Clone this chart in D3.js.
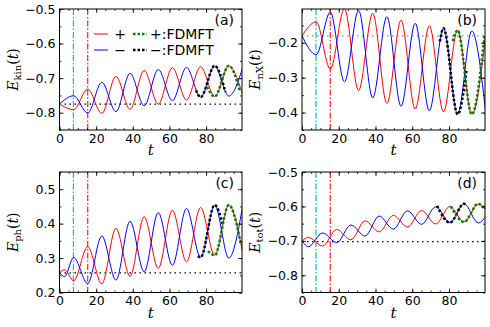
<!DOCTYPE html>
<html>
<head>
<meta charset="utf-8">
<script src="https://cdn.jsdelivr.net/npm/d3@7"></script>
<style>
body { margin: 0; background: #fff; }
text { font-family: "DejaVu Sans", sans-serif; fill: #000; }
</style>
</head>
<body>
<svg id="fig" width="490" height="327"></svg>
<script>
// ---- DATA (turning points of each curve) ----
const xTickVals = [0, 20, 40, 60, 80];
const markerT = [7.6, 15.4];            // cyan and red vertical lines
const refLevels = [-0.775, -0.18, 0.257, -0.702];

const kinTicks = [-0.8, -0.7, -0.6, -0.5];
const kinPlus = [[0,-0.775],[7.7,-0.791],[15.4,-0.732],[23.1,-0.802],[30.8,-0.695],[38.5,-0.790],[46.2,-0.678],[53.9,-0.775],[61.6,-0.670],[69.3,-0.763],[77,-0.667],[84.7,-0.753],[92.4,-0.665],[100.1,-0.750]];
const kinMinus = [[0,-0.775],[7.7,-0.751],[15.4,-0.801],[23.1,-0.712],[30.8,-0.797],[38.5,-0.686],[46.2,-0.780],[53.9,-0.675],[61.6,-0.765],[69.3,-0.669],[77,-0.755],[84.7,-0.665],[92.4,-0.752],[100.1,-0.668]];
const kinPlusFd = [[80.5,-0.725],[84.7,-0.753],[92.4,-0.664],[98.5,-0.738]];
const kinMinusFd = [[74.5,-0.735],[77,-0.755],[84.7,-0.664],[90.5,-0.740]];

const nxTicks = [-0.4, -0.3, -0.2];
const nxPlus = [[0,-0.18],[7.7,-0.140],[15.4,-0.275],[23.1,-0.102],[30.8,-0.337],[38.5,-0.115],[46.2,-0.374],[53.9,-0.135],[61.6,-0.390],[69.3,-0.151],[77,-0.398],[84.7,-0.163],[92.4,-0.405],[100.1,-0.170]];
const nxMinus = [[0,-0.18],[7.7,-0.234],[15.4,-0.112],[23.1,-0.312],[30.8,-0.107],[38.5,-0.358],[46.2,-0.125],[53.9,-0.382],[61.6,-0.144],[69.3,-0.395],[77,-0.158],[84.7,-0.405],[92.4,-0.166],[100.1,-0.405]];
const nxPlusFd = [[82,-0.195],[84.7,-0.164],[92.4,-0.405],[99.3,-0.180]];
const nxMinusFd = [[75,-0.196],[77,-0.158],[84.7,-0.405],[89.5,-0.280]];

const phTicks = [0.2, 0.3, 0.4, 0.5];
const phPlus = [[0,0.258],[2.8,0.266],[7.7,0.234],[15.4,0.333],[23.1,0.225],[30.8,0.386],[38.5,0.247],[46.2,0.420],[53.9,0.270],[61.6,0.439],[69.3,0.289],[77,0.447],[84.7,0.308],[92.4,0.454],[100.1,0.310]];
const phMinus = [[0,0.258],[2.8,0.246],[7.7,0.302],[15.4,0.226],[23.1,0.364],[30.8,0.236],[38.5,0.407],[46.2,0.260],[53.9,0.432],[61.6,0.279],[69.3,0.444],[77,0.302],[84.7,0.454],[92.4,0.300],[100.1,0.455]];
const phPlusFd = [[81,0.320],[84.7,0.308],[92.4,0.454],[99,0.340]];
const phMinusFd = [[75.5,0.306],[77,0.302],[84.7,0.454],[89,0.400]];

const totTicks = [-0.8, -0.7, -0.6, -0.5];
const totPlus = [[0,-0.700],[3.5,-0.690],[11.2,-0.715],[18.9,-0.667],[26.6,-0.697],[34.3,-0.642],[42,-0.674],[49.7,-0.626],[57.4,-0.660],[65.1,-0.612],[72.8,-0.651],[80.5,-0.600],[88.2,-0.645],[95.9,-0.594],[103.6,-0.640]];
const totMinus = [[0,-0.700],[3.5,-0.717],[11.2,-0.677],[18.9,-0.705],[26.6,-0.654],[34.3,-0.686],[42,-0.628],[49.7,-0.666],[57.4,-0.613],[65.1,-0.652],[72.8,-0.601],[80.5,-0.647],[88.2,-0.592],[95.9,-0.648],[103.6,-0.590]];
const totPlusFd = [[81,-0.600],[88.2,-0.645],[95.9,-0.592],[99.5,-0.608]];
const totMinusFd = [[73.5,-0.598],[80.5,-0.647],[88.2,-0.592],[89.5,-0.595]];

// ---- LAYOUT ----
const tMax = 99.6;
const cols = [[59.5, 242], [302, 485]];
const rows = [[9, 130], [172, 292.5]];

const panels = [
  {tag: "(a)", sub: "kin", col: 0, row: 0, dom: [-0.85, -0.5], ticks: kinTicks,
   plus: kinPlus, minus: kinMinus, plusFd: kinPlusFd, minusFd: kinMinusFd, ref: refLevels[0], refColor: "#000", legend: true},
  {tag: "(b)", sub: "nX", col: 1, row: 0, dom: [-0.45, -0.103], ticks: nxTicks,
   plus: nxPlus, minus: nxMinus, plusFd: nxPlusFd, minusFd: nxMinusFd, ref: refLevels[1], refColor: "#888"},
  {tag: "(c)", sub: "ph", col: 0, row: 1, dom: [0.2, 0.55], ticks: phTicks,
   plus: phPlus, minus: phMinus, plusFd: phPlusFd, minusFd: phMinusFd, ref: refLevels[2], refColor: "#000"},
  {tag: "(d)", sub: "tot", col: 1, row: 1, dom: [-0.85, -0.5], ticks: totTicks,
   plus: totPlus, minus: totMinus, plusFd: totPlusFd, minusFd: totMinusFd, ref: refLevels[3], refColor: "#000"}
];

const svg = d3.select("#fig");
const fmt = d3.format(".1f");

panels.forEach((p, i) => {
  const [xl, xr] = cols[p.col];
  const [yt, yb] = rows[p.row];
  const x = d3.scaleLinear().domain([0, tMax]).range([xl, xr]);
  const y = d3.scaleLinear().domain(p.dom).range([yb, yt]);
  const g = svg.append("g");

  // clip for the data
  const cid = "clip" + i;
  svg.append("clipPath").attr("id", cid).append("rect")
    .attr("x", xl).attr("y", yt).attr("width", xr - xl).attr("height", yb - yt);
  const plot = g.append("g").attr("clip-path", `url(#${cid})`);

  // reference level
  plot.append("line")
    .attr("x1", x(0)).attr("x2", x(tMax))
    .attr("y1", y(p.ref)).attr("y2", y(p.ref))
    .attr("stroke", p.refColor).attr("stroke-width", 1.2)
    .attr("stroke-dasharray", "1.5,3.5");

  // vertical markers
  plot.append("line")
    .attr("x1", x(markerT[0])).attr("x2", x(markerT[0]))
    .attr("y1", yt).attr("y2", yb)
    .attr("stroke", "#00bcbc").attr("stroke-width", 1.2)
    .attr("stroke-dasharray", "6,2,1.5,2");
  plot.append("line")
    .attr("x1", x(markerT[1])).attr("x2", x(markerT[1]))
    .attr("y1", yt).attr("y2", yb)
    .attr("stroke", "#f22").attr("stroke-width", 1.2)
    .attr("stroke-dasharray", "6,2,1.5,2");

  const line = d3.line().x(d => x(d[0])).y(d => y(d[1])).curve(d3.curveMonotoneX);
  plot.append("path").datum(p.plus).attr("d", line)
    .attr("fill", "none").attr("stroke", "#ff0000").attr("stroke-width", 1);
  plot.append("path").datum(p.minus).attr("d", line)
    .attr("fill", "none").attr("stroke", "#0000ff").attr("stroke-width", 1);
  plot.append("path").datum(p.minusFd).attr("d", line)
    .attr("fill", "none").attr("stroke", "#000").attr("stroke-width", 2.5)
    .attr("stroke-dasharray", "2.5,2");
  plot.append("path").datum(p.plusFd).attr("d", line)
    .attr("fill", "none").attr("stroke", "#008000").attr("stroke-width", 2.5)
    .attr("stroke-dasharray", "2.5,2");

  // axes, ticks pointing inward on all four sides
  const minorX = d3.range(0, tMax, 5);
  const minorY = d3.range(Math.ceil(p.dom[0] / 0.05 - 1e-6), Math.floor(p.dom[1] / 0.05 + 1e-6) + 1).map(k => k * 0.05);

  const addAxis = (axis, tx, ty) => {
    const a = g.append("g").attr("transform", `translate(${tx},${ty})`).call(axis);
    a.select(".domain").remove();
    a.selectAll("line").attr("stroke", "#000").attr("stroke-width", 0.8);
    a.selectAll("text").style("font-size", "12.5px").style("font-family", "DejaVu Sans");
    return a;
  };
  addAxis(d3.axisBottom(x).tickValues(xTickVals).tickSize(-4).tickSizeOuter(0).tickPadding(4), 0, yb);
  addAxis(d3.axisBottom(x).tickValues(minorX).tickSize(-2).tickSizeOuter(0).tickFormat(""), 0, yb);
  addAxis(d3.axisTop(x).tickValues(xTickVals).tickSize(-4).tickSizeOuter(0).tickFormat(""), 0, yt);
  addAxis(d3.axisTop(x).tickValues(minorX).tickSize(-2).tickSizeOuter(0).tickFormat(""), 0, yt);
  addAxis(d3.axisLeft(y).tickValues(p.ticks).tickSize(-4).tickSizeOuter(0).tickPadding(4).tickFormat(fmt), xl, 0);
  addAxis(d3.axisLeft(y).tickValues(minorY).tickSize(-2).tickSizeOuter(0).tickFormat(""), xl, 0);
  addAxis(d3.axisRight(y).tickValues(p.ticks).tickSize(-4).tickSizeOuter(0).tickFormat(""), xr, 0);
  addAxis(d3.axisRight(y).tickValues(minorY).tickSize(-2).tickSizeOuter(0).tickFormat(""), xr, 0);

  g.append("rect").attr("x", xl).attr("y", yt).attr("width", xr - xl).attr("height", yb - yt)
    .attr("fill", "none").attr("stroke", "#000").attr("stroke-width", 1);

  // panel tag
  g.append("text").attr("x", xr - 8).attr("y", yt + 16).attr("text-anchor", "end")
    .style("font-size", "14px").text(p.tag);

  // x label
  g.append("text").attr("x", (xl + xr) / 2).attr("y", yb + 25).attr("text-anchor", "middle")
    .style("font-family", "DejaVu Serif").style("font-style", "italic").style("font-size", "15px").text("t");

  // y label: E_sub(t)
  const lx = p.col === 0 ? 18 : 260;
  const yl = g.append("text")
    .attr("transform", `translate(${lx},${(yt + yb) / 2}) rotate(-90)`)
    .attr("text-anchor", "middle")
    .style("font-family", "DejaVu Serif").style("font-size", "14px");
  yl.append("tspan").style("font-style", "italic").text("E");
  yl.append("tspan").attr("dy", 3).style("font-size", "10px").text(p.sub);
  yl.append("tspan").attr("dy", -3).text("(");
  yl.append("tspan").style("font-style", "italic").text("t");
  yl.append("tspan").text(")");

  if (p.legend) {
    const lg = g.append("g");
    const rowsL = [
      {c: "#ff0000", s: "+", fc: "#008000", fs: "+:FDMFT", yy: 34},
      {c: "#0000ff", s: "\u2212", fc: "#000", fs: "\u2212:FDMFT", yy: 50}
    ];
    rowsL.forEach(r => {
      lg.append("line").attr("x1", 94).attr("x2", 108).attr("y1", r.yy).attr("y2", r.yy)
        .attr("stroke", r.c).attr("stroke-width", 1);
      lg.append("text").attr("x", 120).attr("y", r.yy + 5).attr("text-anchor", "middle")
        .style("font-size", "14px").text(r.s);
      lg.append("line").attr("x1", 133).attr("x2", 147).attr("y1", r.yy).attr("y2", r.yy)
        .attr("stroke", r.fc).attr("stroke-width", 2.5).attr("stroke-dasharray", "2.5,2");
      lg.append("text").attr("x", 150).attr("y", r.yy + 5)
        .style("font-size", "14px").text(r.fs);
    });
  }
});
</script>
</body>
</html>
